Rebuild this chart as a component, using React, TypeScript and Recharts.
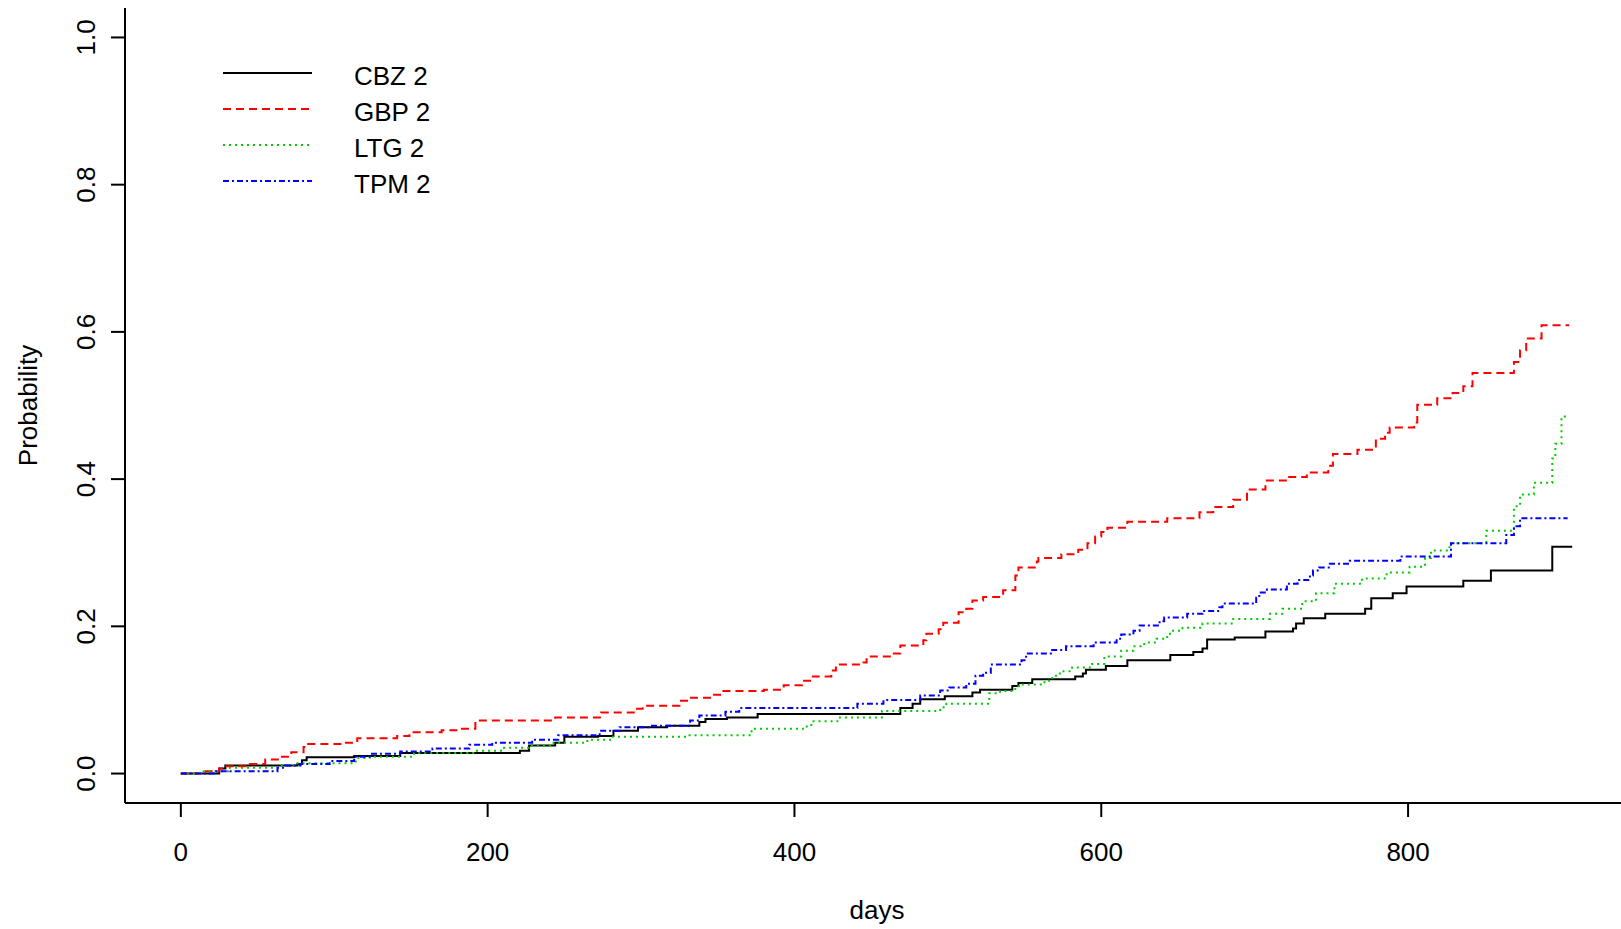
import React from "react";
import { LineChart, Line, XAxis, YAxis, Legend, Label } from "recharts";

// cumulative probability step curves, [day, probability]
const cbz: [number, number][] = [
  [0, 0], [25, 0.007], [29, 0.011], [76, 0.013], [79, 0.018], [82, 0.022], [113, 0.024], [143, 0.028],
  [221, 0.031], [227, 0.038], [244, 0.042], [250, 0.05], [272, 0.051], [282, 0.058], [298, 0.063],
  [317, 0.065], [338, 0.07], [342, 0.074], [356, 0.076], [376, 0.081], [469, 0.089], [477, 0.095],
  [482, 0.101], [498, 0.105], [516, 0.11], [521, 0.114], [542, 0.119], [546, 0.123], [555, 0.128],
  [583, 0.132], [588, 0.136], [590, 0.141], [603, 0.146], [617, 0.154], [645, 0.161], [660, 0.165],
  [666, 0.17], [669, 0.182], [687, 0.185], [707, 0.193], [725, 0.197], [727, 0.204], [732, 0.211],
  [746, 0.217], [772, 0.224], [776, 0.238], [790, 0.245], [799, 0.254], [836, 0.262], [854, 0.276],
  [894, 0.308], [907, 0.308],
];

const gbp: [number, number][] = [
  [0, 0], [14, 0.003], [25, 0.007], [29, 0.01], [45, 0.013], [55, 0.019], [64, 0.023], [72, 0.029],
  [80, 0.036], [83, 0.04], [106, 0.042], [115, 0.048], [141, 0.051], [149, 0.056], [170, 0.059],
  [182, 0.061], [192, 0.072], [244, 0.076], [274, 0.083], [296, 0.088], [301, 0.092], [325, 0.099],
  [330, 0.103], [345, 0.107], [353, 0.112], [380, 0.114], [393, 0.12], [405, 0.126], [412, 0.132],
  [424, 0.14], [427, 0.148], [445, 0.151], [447, 0.159], [464, 0.163], [469, 0.174], [484, 0.181],
  [486, 0.19], [494, 0.196], [497, 0.205], [507, 0.219], [512, 0.224], [516, 0.235], [523, 0.24],
  [536, 0.249], [544, 0.269], [546, 0.28], [558, 0.288], [559, 0.293], [574, 0.298], [585, 0.304],
  [591, 0.313], [596, 0.322], [600, 0.328], [604, 0.334], [617, 0.342], [643, 0.347], [664, 0.355],
  [673, 0.362], [686, 0.372], [695, 0.386], [707, 0.398], [721, 0.403], [734, 0.409], [748, 0.418],
  [751, 0.434], [767, 0.44], [779, 0.455], [785, 0.463], [788, 0.47], [804, 0.477], [806, 0.501],
  [819, 0.51], [829, 0.517], [836, 0.526], [842, 0.544], [869, 0.559], [873, 0.575], [877, 0.591],
  [887, 0.609], [905, 0.609],
];

const ltg: [number, number][] = [
  [0, 0], [12, 0.003], [31, 0.008], [64, 0.011], [75, 0.014], [114, 0.021], [123, 0.023], [152, 0.028],
  [193, 0.031], [210, 0.035], [227, 0.038], [243, 0.042], [265, 0.046], [281, 0.05], [330, 0.052],
  [372, 0.061], [408, 0.064], [411, 0.071], [428, 0.076], [457, 0.085], [495, 0.09], [499, 0.095],
  [527, 0.109], [534, 0.112], [544, 0.115], [546, 0.121], [563, 0.126], [568, 0.133], [573, 0.139],
  [581, 0.144], [594, 0.149], [602, 0.159], [613, 0.167], [621, 0.173], [628, 0.178], [636, 0.183],
  [643, 0.19], [646, 0.194], [653, 0.198], [666, 0.204], [685, 0.21], [710, 0.217], [718, 0.224],
  [731, 0.234], [740, 0.245], [752, 0.258], [770, 0.265], [786, 0.273], [801, 0.281], [811, 0.293],
  [815, 0.303], [827, 0.313], [851, 0.33], [869, 0.363], [873, 0.379], [882, 0.395], [894, 0.428],
  [896, 0.448], [900, 0.485], [905, 0.485],
];

const tpm: [number, number][] = [
  [0, 0], [23, 0.003], [63, 0.008], [68, 0.011], [78, 0.013], [97, 0.017], [113, 0.023], [123, 0.027],
  [143, 0.03], [164, 0.034], [188, 0.039], [203, 0.042], [229, 0.046], [246, 0.052], [273, 0.058],
  [286, 0.063], [306, 0.065], [332, 0.072], [338, 0.079], [355, 0.084], [364, 0.089], [441, 0.095],
  [458, 0.1], [482, 0.106], [495, 0.113], [501, 0.117], [512, 0.122], [518, 0.133], [523, 0.137],
  [528, 0.148], [548, 0.154], [551, 0.163], [568, 0.168], [577, 0.173], [595, 0.178], [610, 0.183],
  [613, 0.189], [621, 0.194], [625, 0.201], [638, 0.207], [641, 0.212], [656, 0.217], [666, 0.221],
  [677, 0.226], [679, 0.231], [701, 0.239], [703, 0.246], [708, 0.25], [721, 0.258], [728, 0.263],
  [736, 0.269], [738, 0.276], [742, 0.28], [749, 0.285], [762, 0.289], [795, 0.295], [828, 0.313],
  [864, 0.324], [869, 0.336], [873, 0.347], [904, 0.347],
];

const seriesNames = ["CBZ 2", "GBP 2", "LTG 2", "TPM 2"];
const xTicks = [0, 200, 400, 600, 800];
const yTicks = [0, 0.2, 0.4, 0.6, 0.8, 1.0];

const FONT = "'Liberation Sans', Arial, Helvetica, sans-serif";
const FS = 26;

const series = [
  { name: seriesNames[0], pts: cbz, color: "#000000", dash: undefined as string | undefined },
  { name: seriesNames[1], pts: gbp, color: "#FF0000", dash: "8 5" },
  { name: seriesNames[2], pts: ltg, color: "#00CD00", dash: "2 4" },
  { name: seriesNames[3], pts: tpm, color: "#0000FF", dash: "6 3 2 3" },
];

const YTick = (props: any) => {
  const { x, y, payload } = props;
  return (
    <text
      x={x}
      y={y}
      transform={`rotate(-90, ${x}, ${y})`}
      textAnchor="middle"
      fontFamily={FONT}
      fontSize={FS}
      fill="#000"
    >
      {Number(payload.value).toFixed(1)}
    </text>
  );
};

const XTick = (props: any) => {
  const { x, y, payload } = props;
  return (
    <text x={x} y={y} dy="0.71em" textAnchor="middle" fontFamily={FONT} fontSize={FS} fill="#000">
      {payload.value}
    </text>
  );
};

const renderLegend = () => (
  <svg width={460} height={210} style={{ display: "block" }}>
    {series.map((s, i) => {
      const y = 73 + i * 36;
      return (
        <g key={s.name}>
          <line x1={223} x2={312} y1={y} y2={y} stroke={s.color} strokeWidth={2} strokeDasharray={s.dash} />
          <text x={354} y={y + 3} dominantBaseline="central" fontFamily={FONT} fontSize={FS} fill="#000">
            {s.name}
          </text>
        </g>
      );
    })}
  </svg>
);

export default function App() {
  return (
    <div style={{ position: "absolute", left: 0, top: 0, background: "#fff" }}>
      <LineChart width={1621} height={929} margin={{ top: 8, right: 0, bottom: 0, left: 0 }}>
        <XAxis
          type="number"
          dataKey="day"
          domain={[-36.4, 938.8]}
          allowDataOverflow
          ticks={xTicks}
          interval={0}
          height={126}
          tickSize={14}
          tickMargin={26}
          tick={<XTick />}
          axisLine={{ stroke: "#000", strokeWidth: 2 }}
          tickLine={{ stroke: "#000", strokeWidth: 2 }}
        >
          <Label
            content={({ viewBox }: any) => (
              <text
                x={viewBox.x + viewBox.width / 2 + 4}
                y={viewBox.y + 116}
                textAnchor="middle"
                fontFamily={FONT}
                fontSize={FS}
                fill="#000"
              >
                days
              </text>
            )}
          />
        </XAxis>
        <YAxis
          type="number"
          dataKey="p"
          domain={[-0.04, 1.04]}
          allowDataOverflow
          ticks={yTicks}
          interval={0}
          width={125}
          tickSize={14}
          tickMargin={16}
          tick={<YTick />}
          axisLine={{ stroke: "#000", strokeWidth: 2 }}
          tickLine={{ stroke: "#000", strokeWidth: 2 }}
        >
          <Label
            content={({ viewBox }: any) => {
              const cy = viewBox.y + viewBox.height / 2;
              return (
                <text
                  x={37}
                  y={cy}
                  transform={`rotate(-90, 37, ${cy})`}
                  textAnchor="middle"
                  fontFamily={FONT}
                  fontSize={FS}
                  fill="#000"
                >
                  Probability
                </text>
              );
            }}
          />
        </YAxis>
        <Legend
          layout="horizontal"
          verticalAlign="middle"
          align="center"
          content={renderLegend}
          wrapperStyle={{ position: "absolute", left: 0, top: 0, width: 460, height: 210 }}
        />
        {series.map((s) => (
          <Line
            key={s.name}
            name={s.name}
            data={s.pts.map(([day, p]) => ({ day, p }))}
            dataKey="p"
            type="stepAfter"
            stroke={s.color}
            strokeWidth={2}
            strokeDasharray={s.dash}
            dot={false}
            activeDot={false}
            isAnimationActive={false}
          />
        ))}
      </LineChart>
    </div>
  );
}
